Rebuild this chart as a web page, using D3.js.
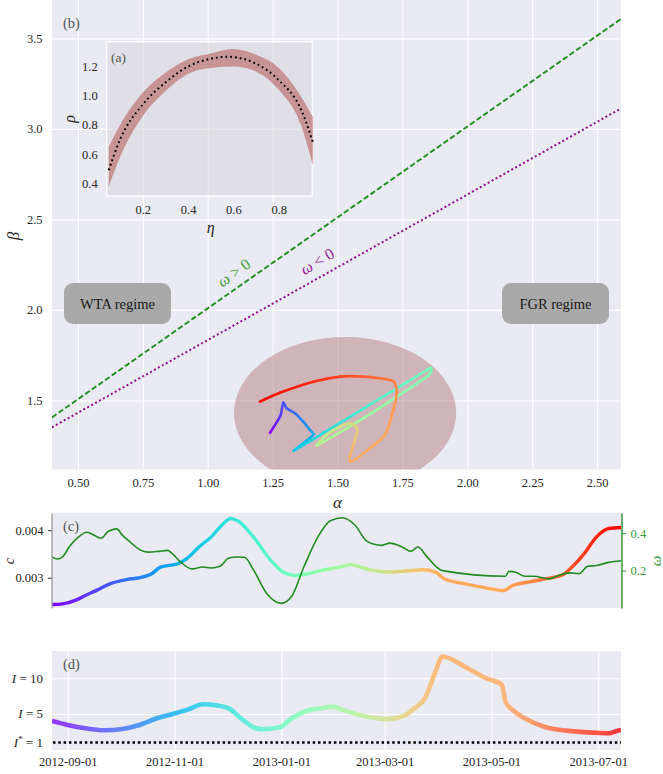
<!DOCTYPE html>
<html>
<head>
<meta charset="utf-8">
<script src="https://cdn.jsdelivr.net/npm/d3@7"></script>
<style>
    body { margin: 0; background: #fff; }
</style>
</head>
<body>
<svg id="fig" width="663" height="774"></svg>
<script>
// ---------- data ----------
const startDate = "2012-08-23";
const endDate = "2013-07-14";
// no observations between these two days (offsets from startDate)
const gapDays = [223, 258];

// panel (b)
const alphaTicks = [0.5, 0.75, 1.0, 1.25, 1.5, 1.75, 2.0, 2.25, 2.5];
const betaTicks = [1.5, 2.0, 2.5, 3.0, 3.5];
const lineAlpha = [0.4, 2.59];
const betaOmegaPos = [1.406, 3.605];
const betaOmegaNeg = [1.351, 3.111];
const regionCenter = [1.529, 1.43];
const regionRadius = [0.428, 0.42];
const trajDay = [0, 12, 22, 30, 35, 42, 52, 60, 66, 72, 84, 98, 115, 130, 139, 142, 146, 158, 168, 176,
    182, 188, 194, 198, 202, 223, 258, 261, 265, 270, 274, 278, 290, 300, 310, 318, 325];
const trajAlpha = [1.240, 1.263, 1.281, 1.291, 1.304, 1.336, 1.368, 1.394, 1.407, 1.394,
    1.332, 1.471, 1.625, 1.767, 1.849, 1.860, 1.847, 1.664, 1.535, 1.420,
    1.458, 1.510, 1.548, 1.571, 1.576, 1.548, 1.664, 1.689, 1.715, 1.728,
    1.721, 1.702, 1.599, 1.510, 1.407, 1.278, 1.201];
const trajBeta = [1.321, 1.373, 1.419, 1.487, 1.456, 1.429, 1.382, 1.336, 1.314, 1.292,
    1.222, 1.342, 1.476, 1.599, 1.673, 1.676, 1.635, 1.460, 1.345, 1.250,
    1.309, 1.354, 1.373, 1.354, 1.327, 1.161, 1.281, 1.327, 1.447, 1.539,
    1.594, 1.612, 1.631, 1.631, 1.603, 1.542, 1.493];

// inset (a)
const etaTicks = [0.2, 0.4, 0.6, 0.8];
const rhoTicks = [0.4, 0.6, 0.8, 1.0, 1.2];
const etaCurve = [0.05, 0.1, 0.2, 0.3, 0.4, 0.5, 0.57, 0.6, 0.7, 0.8, 0.9, 0.95];
const rhoCurve = [0.49, 0.70, 0.94, 1.09, 1.2, 1.253, 1.267, 1.265, 1.22, 1.107, 0.9, 0.685];
const etaBand = [0.05, 0.1, 0.2, 0.3, 0.4, 0.5, 0.6, 0.7, 0.8, 0.9, 0.95];
const rhoUpper = [0.65, 0.80, 1.02, 1.157, 1.25, 1.29, 1.32, 1.28, 1.19, 0.99, 0.856];
const rhoLower = [0.377, 0.58, 0.86, 1.03, 1.15, 1.19, 1.2, 1.165, 1.04, 0.79, 0.525];

// panel (c)
const cTicks = [0.003, 0.004];
const omegaTicks = [0.2, 0.4];
const cDay = [0, 6, 14, 19, 26, 33, 43, 50, 57, 62, 72, 77, 84, 91, 98, 102, 106, 115, 125, 132,
    139, 144, 154, 164, 171, 176, 183, 193, 202, 212, 219, 224, 236, 248, 258, 263, 272, 282, 292, 297,
    304, 311, 318, 325];
const cVal = [0.002437, 0.002451, 0.002535, 0.002627, 0.002746, 0.002873, 0.002965, 0.003, 0.003085, 0.003225,
    0.003296, 0.003401, 0.003648, 0.003859, 0.004141, 0.004246, 0.004197, 0.003859, 0.003366, 0.00312,
    0.003049, 0.00307, 0.003155, 0.003225, 0.003275, 0.003225, 0.003155, 0.00312, 0.003141, 0.003169,
    0.00312, 0.002979, 0.002873, 0.002789, 0.002732, 0.002838, 0.002908, 0.002979, 0.00307, 0.003225,
    0.003507, 0.003859, 0.004035, 0.004056];
const omegaDay = [0, 3, 6, 10, 15, 20, 23, 28, 32, 37, 40, 45, 50, 55, 61, 66, 69, 74, 80, 86,
    91, 96, 101, 106, 110, 115, 123, 131, 137, 144, 152, 159, 166, 173, 180, 188, 193, 200, 205, 209,
    214, 223, 259, 261, 265, 270, 275, 284, 289, 296, 301, 306, 311, 318, 325];
const omegaVal = [0.273, 0.262, 0.273, 0.329, 0.379, 0.405, 0.395, 0.373, 0.409, 0.423, 0.391, 0.350, 0.312,
    0.299, 0.303, 0.308, 0.288, 0.241, 0.209, 0.219, 0.214, 0.223, 0.267, 0.273, 0.271, 0.205, 0.073,
    0.025, 0.064, 0.223, 0.382, 0.467, 0.483, 0.444, 0.356, 0.335, 0.347, 0.326, 0.303, 0.326, 0.276,
    0.2, 0.170, 0.196, 0.191, 0.170, 0.170, 0.156, 0.173, 0.188, 0.184, 0.223, 0.227, 0.244, 0.253];

// panel (d)
const dateTicks = ["2012-09-01", "2012-11-01", "2013-01-01", "2013-03-01", "2013-05-01", "2013-07-01"];
const iTicks = [5, 10];
const iStar = 1;
const iDay = [0, 9, 19, 30, 40, 50, 60, 69, 78, 86, 94, 101, 108, 115, 120, 130, 137, 147, 154, 161,
    166, 178, 191, 201, 207, 213, 219, 223, 236, 248, 257, 259, 263, 270, 282, 294, 309, 318, 323, 325];
const iVal = [4.02, 3.46, 2.99, 2.71, 2.9, 3.46, 4.39, 5.0, 5.65, 6.36, 6.2, 5.79, 4.39, 3.13, 2.85, 3.13,
    4.39, 5.56, 5.79, 6.03, 5.56, 4.72, 4.25, 4.72, 5.79, 7.2, 10.93, 13.04, 11.6, 10.0, 9.07, 6.73,
    5.56, 4.39, 3.13, 2.66, 2.38, 2.29, 2.66, 2.76];

// ---------- helpers ----------
const FONT = '"Liberation Serif", "DejaVu Serif", serif';
const BG = "#eaeaf2";
const TXT = "#262626";

const svg = d3.select("#fig");
const defs = svg.append("defs");

// matplotlib "rainbow" colormap
function rainbow(t) {
    const r = Math.min(1, Math.abs(2 * t - 0.5));
    const g = Math.sin(Math.PI * t);
    const b = Math.cos(Math.PI * t / 2);
    return d3.rgb(r * 255, g * 255, b * 255).formatHex();
}

const parseDay = d3.utcParse("%Y-%m-%d");
const t0 = parseDay(startDate), t1 = parseDay(endDate);
const totalDays = d3.utcDay.count(t0, t1);
const dayDate = d => d3.utcDay.offset(t0, d);

// colour follows the observation index, so the gap does not advance it
const gapLen = gapDays[1] - gapDays[0];
function colorT(day) {
    const idx = day <= gapDays[0] ? day : (day >= gapDays[1] ? day - gapLen : gapDays[0]);
    return idx / (totalDays - gapLen);
}

function styleAxis(g, size) {
    g.attr("font-family", FONT).attr("font-size", size || 12.5);
    g.select(".domain").remove();
    g.selectAll(".tick line").attr("stroke", "#fff").attr("stroke-width", 1.1);
    g.selectAll(".tick text").attr("fill", TXT);
}

function clip(id, box) {
    defs.append("clipPath").attr("id", id).append("rect")
        .attr("x", box.left).attr("y", box.top)
        .attr("width", box.right - box.left).attr("height", box.bottom - box.top);
}

// ================= panel (b) =================
const bBox = { left: 52, right: 621, top: -10, bottom: 469.5 };
const xB = d3.scaleLinear().domain([0.4, 2.592]).range([bBox.left, bBox.right]);
const yB = d3.scaleLinear().domain([1.118, 3.767]).range([bBox.bottom, bBox.top]);
clip("clipB", bBox);

const gB = svg.append("g");
gB.append("rect")
    .attr("x", bBox.left).attr("y", bBox.top)
    .attr("width", bBox.right - bBox.left).attr("height", bBox.bottom - bBox.top)
    .attr("fill", BG);

gB.append("g")
    .attr("transform", "translate(0," + bBox.bottom + ")")
    .call(d3.axisBottom(xB).tickValues(alphaTicks).tickFormat(d3.format(".2f"))
        .tickSize(-(bBox.bottom - bBox.top)).tickPadding(9))
    .call(styleAxis);

gB.append("g")
    .attr("transform", "translate(" + bBox.left + ",0)")
    .call(d3.axisLeft(yB).tickValues(betaTicks).tickFormat(d3.format(".1f"))
        .tickSize(-(bBox.right - bBox.left)).tickPadding(9.5))
    .call(styleAxis);

// axis labels
gB.append("text")
    .attr("x", xB(1.5)).attr("y", 508)
    .attr("text-anchor", "middle")
    .attr("font-family", FONT).attr("font-style", "italic").attr("font-size", 17)
    .attr("fill", TXT).text("α");
gB.append("text")
    .attr("transform", "translate(19,236) rotate(-90)")
    .attr("text-anchor", "middle")
    .attr("font-family", FONT).attr("font-style", "italic").attr("font-size", 17)
    .attr("fill", TXT).text("β");

const plotB = gB.append("g").attr("clip-path", "url(#clipB)");

// confidence region
plotB.append("ellipse")
    .attr("cx", xB(regionCenter[0])).attr("cy", yB(regionCenter[1]))
    .attr("rx", xB(regionCenter[0] + regionRadius[0]) - xB(regionCenter[0]))
    .attr("ry", yB(regionCenter[1]) - yB(regionCenter[1] + regionRadius[1]))
    .attr("fill", "#bc8f8f").attr("fill-opacity", 0.58);

// boundary lines
plotB.append("line")
    .attr("x1", xB(lineAlpha[0])).attr("y1", yB(betaOmegaPos[0]))
    .attr("x2", xB(lineAlpha[1])).attr("y2", yB(betaOmegaPos[1]))
    .attr("stroke", "#228b22").attr("stroke-width", 1.9).attr("stroke-dasharray", "5.5,2.6");
plotB.append("line")
    .attr("x1", xB(lineAlpha[0])).attr("y1", yB(betaOmegaNeg[0]))
    .attr("x2", xB(lineAlpha[1])).attr("y2", yB(betaOmegaNeg[1]))
    .attr("stroke", "#8b0f8b").attr("stroke-width", 2).attr("stroke-dasharray", "2,2.5");

// line annotations
function omegaText(x, y, angle, sign, color) {
    const t = gB.append("text")
        .attr("transform", "translate(" + x + "," + y + ") rotate(" + angle + ")")
        .attr("text-anchor", "middle")
        .attr("font-family", FONT).attr("font-size", 16).attr("fill", color);
    t.append("tspan").attr("font-style", "italic").text("ω");
    t.append("tspan").text(" " + sign + " 0");
}
omegaText(237, 277, -36, ">", "#3c9a3c");
omegaText(320, 266, -31, "<", "#96239a");

// regime boxes
function regimeBox(cx, cy, label) {
    gB.append("rect")
        .attr("x", cx - 53.5).attr("y", cy - 20.5)
        .attr("width", 107).attr("height", 41)
        .attr("rx", 9).attr("fill", "#a9a9a9");
    gB.append("text")
        .attr("x", cx).attr("y", cy + 5)
        .attr("text-anchor", "middle")
        .attr("font-family", FONT).attr("font-size", 14.5).attr("fill", "#1a1a1a")
        .text(label);
}
regimeBox(117.5, 303.5, "WTA regime");
regimeBox(555.5, 303.5, "FGR regime");

// trajectory coloured by time, each piece a smooth cubic with its own gradient
const traj = trajDay.map((d, i) => ({ t: colorT(d), x: xB(trajAlpha[i]), y: yB(trajBeta[i]) }));
const k = 0.7 / 6;
for (let i = 0; i < traj.length - 1; i++) {
    const p0 = traj[Math.max(i - 1, 0)], a = traj[i], b = traj[i + 1], p3 = traj[Math.min(i + 2, traj.length - 1)];
    const c1 = [a.x + k * (b.x - p0.x), a.y + k * (b.y - p0.y)];
    const c2 = [b.x - k * (p3.x - a.x), b.y - k * (p3.y - a.y)];
    const grad = defs.append("linearGradient")
        .attr("id", "tg" + i).attr("gradientUnits", "userSpaceOnUse")
        .attr("x1", a.x).attr("y1", a.y).attr("x2", b.x + 0.01).attr("y2", b.y);
    grad.append("stop").attr("offset", 0).attr("stop-color", rainbow(a.t));
    grad.append("stop").attr("offset", 1).attr("stop-color", rainbow(b.t));
    plotB.append("path")
        .attr("d", "M" + a.x + "," + a.y + "C" + c1.join(",") + " " + c2.join(",") + " " + b.x + "," + b.y)
        .attr("fill", "none")
        .attr("stroke", "url(#tg" + i + ")").attr("stroke-width", 2.6)
        .attr("stroke-linecap", "round");
}

gB.append("text")
    .attr("x", 63).attr("y", 28)
    .attr("font-family", FONT).attr("font-size", 14.5).attr("fill", "#555")
    .text("(b)");

// ================= inset (a) =================
const aBox = { left: 106.7, right: 312.3, top: 41.7, bottom: 196 };
const xA = d3.scaleLinear().domain([0.041, 0.948]).range([aBox.left, aBox.right]);
const yA = d3.scaleLinear().domain([0.313, 1.37]).range([aBox.bottom, aBox.top]);

const gA = svg.append("g");
gA.append("rect")
    .attr("x", aBox.left).attr("y", aBox.top)
    .attr("width", aBox.right - aBox.left).attr("height", aBox.bottom - aBox.top)
    .attr("fill", "#d4d4d8").attr("fill-opacity", 0.5)
    .attr("stroke", "#fff").attr("stroke-width", 1.3);

gA.append("path")
    .datum(etaBand.map((e, i) => ({ e: e, lo: rhoLower[i], hi: rhoUpper[i] })))
    .attr("d", d3.area().x(d => xA(d.e)).y0(d => yA(d.lo)).y1(d => yA(d.hi)).curve(d3.curveMonotoneX))
    .attr("fill", "#c79496");

gA.append("path")
    .datum(etaCurve.map((e, i) => ({ e: e, r: rhoCurve[i] })))
    .attr("d", d3.line().x(d => xA(d.e)).y(d => yA(d.r)).curve(d3.curveMonotoneX))
    .attr("fill", "none").attr("stroke", "#000").attr("stroke-width", 2)
    .attr("stroke-dasharray", "1.8,3");

gA.append("g")
    .attr("transform", "translate(0," + aBox.bottom + ")")
    .call(d3.axisBottom(xA).tickValues(etaTicks).tickFormat(d3.format(".1f")).tickSize(0).tickPadding(9.5))
    .call(styleAxis);
gA.append("g")
    .attr("transform", "translate(" + aBox.left + ",0)")
    .call(d3.axisLeft(yA).tickValues(rhoTicks).tickFormat(d3.format(".1f")).tickSize(0).tickPadding(9))
    .call(styleAxis);

gA.append("text")
    .attr("x", xA(0.5)).attr("y", 233)
    .attr("text-anchor", "middle")
    .attr("font-family", FONT).attr("font-style", "italic").attr("font-size", 16)
    .attr("fill", TXT).text("η");
gA.append("text")
    .attr("transform", "translate(75,119) rotate(-90)")
    .attr("text-anchor", "middle")
    .attr("font-family", FONT).attr("font-style", "italic").attr("font-size", 16)
    .attr("fill", TXT).text("ρ");
gA.append("text")
    .attr("x", 111).attr("y", 62)
    .attr("font-family", FONT).attr("font-size", 13.5).attr("fill", "#555")
    .text("(a)");

// ================= shared time axis =================
const xT = d3.scaleUtc().domain([t0, t1]).range([52, 621]);

const rg = defs.append("linearGradient")
    .attr("id", "rainbowX").attr("gradientUnits", "userSpaceOnUse")
    .attr("x1", xT.range()[0]).attr("x2", xT.range()[1]).attr("y1", 0).attr("y2", 0);
const stopDays = d3.range(0, totalDays + 1, 5).concat(gapDays).sort((a, b) => a - b);
stopDays.forEach(d => {
    rg.append("stop").attr("offset", d / totalDays).attr("stop-color", rainbow(colorT(d)));
});

// ================= panel (c) =================
const cBox = { left: 52, right: 621, top: 513, bottom: 608 };
const yC = d3.scaleLinear().domain([0.002365, 0.00436]).range([cBox.bottom, cBox.top]);
const yW = d3.scaleLinear().domain([0, 0.508]).range([cBox.bottom, cBox.top]);
clip("clipC", cBox);

const gC = svg.append("g");
gC.append("rect")
    .attr("x", cBox.left).attr("y", cBox.top)
    .attr("width", cBox.right - cBox.left).attr("height", cBox.bottom - cBox.top)
    .attr("fill", BG);

const plotC = gC.append("g").attr("clip-path", "url(#clipC)");
plotC.append("path")
    .datum(cDay.map((d, i) => ({ d: d, v: cVal[i] })))
    .attr("d", d3.line().x(p => xT(dayDate(p.d))).y(p => yC(p.v)).curve(d3.curveMonotoneX))
    .attr("fill", "none").attr("stroke", "url(#rainbowX)").attr("stroke-width", 3.4);
plotC.append("path")
    .datum(omegaDay.map((d, i) => ({ d: d, v: omegaVal[i] })))
    .attr("d", d3.line().x(p => xT(dayDate(p.d))).y(p => yW(p.v)).curve(d3.curveMonotoneX))
    .attr("fill", "none").attr("stroke", "#228b22").attr("stroke-width", 1.6);

const axC = gC.append("g")
    .attr("transform", "translate(" + (cBox.left - 0.5) + ",0)")
    .call(d3.axisLeft(yC).tickValues(cTicks).tickFormat(d3.format(".3f"))
        .tickSize(3.5).tickSizeOuter(0).tickPadding(4.5))
    .attr("font-family", FONT).attr("font-size", 12.5);
axC.select(".domain").attr("stroke", "#a0a0a0").attr("stroke-width", 1.4);
axC.selectAll(".tick line").attr("stroke", "#333");
axC.selectAll(".tick text").attr("fill", TXT);

const axW = gC.append("g")
    .attr("transform", "translate(" + (cBox.right + 0.5) + ",0)")
    .call(d3.axisRight(yW).tickValues(omegaTicks).tickFormat(d3.format(".1f"))
        .tickSize(4.5).tickSizeOuter(0).tickPadding(4.5))
    .attr("font-family", FONT).attr("font-size", 12.5);
axW.select(".domain").attr("stroke", "#2e8b2e").attr("stroke-width", 1.4);
axW.selectAll(".tick line").attr("stroke", "#2e8b2e");
axW.selectAll(".tick text").attr("fill", "#3c9a3c");

gC.append("text")
    .attr("transform", "translate(14,561) rotate(-90)")
    .attr("text-anchor", "middle")
    .attr("font-family", FONT).attr("font-style", "italic").attr("font-size", 15)
    .attr("fill", TXT).text("c");
gC.append("text")
    .attr("transform", "translate(661,561) rotate(-90)")
    .attr("text-anchor", "middle")
    .attr("font-family", FONT).attr("font-style", "italic").attr("font-size", 15)
    .attr("fill", "#3c9a3c").text("ω");
gC.append("text")
    .attr("x", 63).attr("y", 531)
    .attr("font-family", FONT).attr("font-size", 14.5).attr("fill", "#555")
    .text("(c)");

// ================= panel (d) =================
const dBox = { left: 52, right: 621, top: 651, bottom: 750 };
const yD = d3.scaleLinear().domain([-0.05, 13.82]).range([dBox.bottom, dBox.top]);
clip("clipD", dBox);

const gD = svg.append("g");
gD.append("rect")
    .attr("x", dBox.left).attr("y", dBox.top)
    .attr("width", dBox.right - dBox.left).attr("height", dBox.bottom - dBox.top)
    .attr("fill", BG);

gD.append("g")
    .attr("transform", "translate(0," + dBox.bottom + ")")
    .call(d3.axisBottom(xT).tickValues(dateTicks.map(parseDay)).tickFormat(d3.utcFormat("%Y-%m-%d"))
        .tickSize(-(dBox.bottom - dBox.top)).tickPadding(7.5))
    .call(styleAxis);

gD.append("g")
    .attr("transform", "translate(" + dBox.left + ",0)")
    .call(d3.axisLeft(yD).tickValues(iTicks).tickFormat("").tickSize(-(dBox.right - dBox.left)))
    .call(styleAxis);

// y tick labels written as I = n
iTicks.forEach(v => {
    const t = gD.append("text")
        .attr("x", 43).attr("y", yD(v) + 4.5)
        .attr("text-anchor", "end")
        .attr("font-family", FONT).attr("font-size", 13).attr("fill", TXT);
    t.append("tspan").attr("font-style", "italic").text("I");
    t.append("tspan").text(" = " + v);
});
const ts = gD.append("text")
    .attr("x", 43).attr("y", yD(iStar) + 4.5)
    .attr("text-anchor", "end")
    .attr("font-family", FONT).attr("font-size", 13).attr("fill", TXT);
ts.append("tspan").attr("font-style", "italic").text("I");
ts.append("tspan").attr("font-size", 9).attr("dy", -5).text("*");
ts.append("tspan").attr("dy", 5).text(" = " + iStar);

const plotD = gD.append("g").attr("clip-path", "url(#clipD)");
plotD.append("line")
    .attr("x1", dBox.left + 1).attr("x2", dBox.right)
    .attr("y1", yD(iStar)).attr("y2", yD(iStar))
    .attr("stroke", "#000").attr("stroke-width", 2.6).attr("stroke-dasharray", "2.5,2.8");
plotD.append("path")
    .datum(iDay.map((d, i) => ({ d: d, v: iVal[i] })))
    .attr("d", d3.line().x(p => xT(dayDate(p.d))).y(p => yD(p.v)).curve(d3.curveMonotoneX))
    .attr("fill", "none").attr("stroke", "url(#rainbowX)").attr("stroke-width", 4.6)
    .attr("stroke-opacity", 0.78);

gD.append("text")
    .attr("x", 63).attr("y", 669)
    .attr("font-family", FONT).attr("font-size", 14.5).attr("fill", "#555")
    .text("(d)");
</script>
</body>
</html>
